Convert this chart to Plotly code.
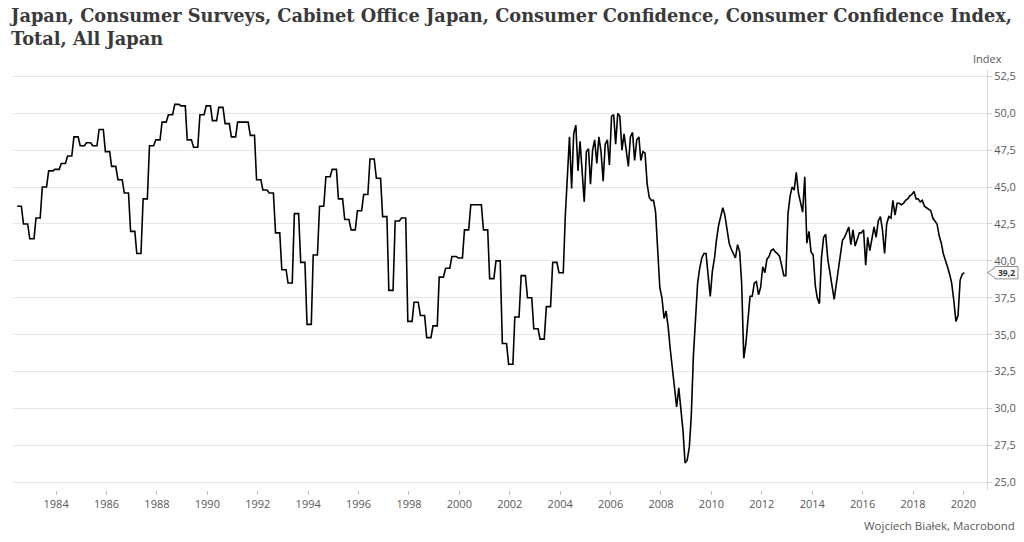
import plotly.graph_objects as go
import pandas as pd
import numpy as np

# Quarterly survey values (Jun 1982 - Dec 2003), each covering three months
quarterly_start = "1982-06-01"
quarterly_values = [
    43.7, 42.5, 41.5,
    42.9, 45.0, 46.1, 46.2,
    46.6, 47.1, 48.4, 47.8,
    48.0, 47.8, 48.9, 47.4,
    46.4, 45.5, 44.6, 42.0,
    40.5, 44.2, 47.8, 48.2,
    49.4, 49.9, 50.6, 50.5,
    48.2, 47.7, 49.9, 50.5,
    49.5, 50.4, 49.3, 48.4,
    49.4, 49.4, 48.5, 45.5,
    44.8, 44.6, 41.9, 39.4,
    38.5, 43.2, 39.9, 35.7,
    40.4, 43.7, 45.7, 46.2,
    44.2, 42.8, 42.1, 43.4,
    44.5, 46.9, 45.6, 43.0,
    38.0, 42.7, 42.9, 35.9,
    37.2, 36.3, 34.8, 35.6,
    38.9, 39.5, 40.3, 40.2,
    42.1, 43.8, 43.8, 42.1,
    38.8, 40.0, 34.4, 33.0,
    36.2, 39.0, 37.5, 35.4,
    34.7, 36.9, 39.9, 39.2,
]

# Monthly values (Mar 2004 - Jan 2020)
monthly_start = "2004-03-01"
monthly_values = [
    43.0, 46.2, 48.4, 44.9, 48.6, 49.2, 46.1, 48.1, 46.2, 44.0,
    47.4, 47.6, 45.2, 47.5, 48.2, 46.6, 48.4, 47.4, 45.4, 47.9, 48.2, 46.5,
    49.8, 49.9, 47.9, 50.0, 49.8, 47.5, 48.6, 47.5, 46.4, 48.4, 48.7, 46.8,
    48.2, 48.4, 46.8, 47.4, 47.3, 45.2, 44.3, 44.1, 44.1, 43.3, 40.9, 38.2,
    37.5, 36.1, 36.6, 35.5, 34.0, 32.7, 31.4, 30.1, 31.4, 29.9, 28.5, 26.3,
    26.5, 27.4, 29.5, 33.6, 36.5, 38.5, 39.5, 40.2, 40.5, 40.5, 39.0, 37.6,
    39.3, 40.2, 41.4, 42.4, 43.0, 43.6, 43.1, 42.2, 41.2, 40.8, 40.5, 40.2,
    41.1, 40.6, 38.5, 33.4, 34.4, 36.0, 37.6, 37.6, 38.5, 38.6, 37.7, 38.2,
    39.6, 39.2, 40.1, 40.3, 40.7, 40.8, 40.6, 40.5, 40.3, 39.7, 39.0, 39.0,
    43.2, 44.4, 45.0, 44.8, 46.0, 44.6, 43.9, 43.3, 45.7, 41.2, 42.0, 40.6,
    40.4, 38.3, 37.5, 37.1, 40.2, 41.6, 41.8, 40.1, 39.2, 38.3, 37.4, 38.4,
    39.4, 40.4, 41.4, 41.6, 42.0, 42.3, 41.1, 42.1, 41.0, 41.4, 41.9, 41.9,
    42.1, 39.7, 41.6, 40.7, 41.6, 42.3, 41.6, 42.7, 43.0, 42.1, 40.5, 42.5,
    43.0, 42.9, 44.1, 43.1, 43.9, 43.9, 43.8, 43.9, 44.1, 44.2, 44.4, 44.5,
    44.7, 44.2, 44.2, 44.0, 44.1, 43.7, 43.6, 43.5, 43.4, 42.9, 42.7, 42.5,
    41.7, 41.2, 40.5, 40.1, 39.6, 39.1, 38.5, 37.3, 35.9, 36.3, 38.7, 39.1,
    39.2,
]

y_ticks = [25.0, 27.5, 30.0, 32.5, 35.0, 37.5, 40.0, 42.5, 45.0, 47.5, 50.0, 52.5]

title_text = ("Japan, Consumer Surveys, Cabinet Office Japan, Consumer Confidence, "
              "Consumer Confidence Index,<br>Total, All Japan")
source_text = "Wojciech Białek, Macrobond"
unit_text = "Index"

# Build the series
q_dates = pd.date_range(quarterly_start, periods=len(quarterly_values) * 3, freq="MS") + pd.Timedelta(days=14)
q_vals = np.repeat(quarterly_values, 3)
m_dates = pd.date_range(monthly_start, periods=len(monthly_values), freq="MS") + pd.Timedelta(days=14)

x_all = list(q_dates) + list(m_dates)
y_all = list(q_vals) + list(monthly_values)

fig = go.Figure()
fig.add_trace(go.Scatter(
    x=x_all, y=y_all, mode="lines",
    line=dict(color="#000000", width=1.6),
    hoverinfo="skip", showlegend=False,
))

L, R, T, B = 13, 37, 70, 52
PW, PH = 1024 - L - R, 542 - T - B
Y0, Y1 = 24.48, 52.93

label_font = dict(family="Open Sans, Noto Sans, sans-serif", size=11, color="#595959")

fig.update_layout(
    width=1024, height=542,
    margin=dict(l=L, r=R, t=T, b=B, autoexpand=False),
    paper_bgcolor="white", plot_bgcolor="white",
    separators=",.",
    xaxis=dict(
        type="date",
        range=["1982-04-16", "2020-12-08"],
        tick0="1984-01-01", dtick="M24", tickformat="%Y",
        ticks="outside", ticklen=4, tickcolor="#bfbfbf",
        showgrid=False, showline=False, zeroline=False,
        tickfont=label_font, automargin=False,
    ),
    yaxis=dict(
        side="right",
        range=[Y0, Y1],
        tickvals=y_ticks, tickformat=".1f",
        ticks="outside", ticklen=4, tickcolor="#d0d0d0",
        showgrid=True, gridcolor="#e6e6e6", gridwidth=1,
        showline=True, linecolor="#d9d9d9", linewidth=1,
        zeroline=False, automargin=False,
        tickfont=label_font,
    ),
)

# Title
fig.add_annotation(text="<b>" + title_text + "</b>", xref="paper", yref="paper",
                   x=(7 - L) / PW, y=1 + (T - 3) / PH, xanchor="left", yanchor="top",
                   align="left", showarrow=False,
                   font=dict(family="DejaVu Serif, serif", size=17.8, color="#3a3a3a"))

# Axis unit label and source
fig.add_annotation(text=unit_text, xref="paper", yref="paper", x=1.0, y=1 + 12 / PH,
                   xanchor="center", yanchor="middle", showarrow=False,
                   font=dict(family="Open Sans, sans-serif", size=11, color="#595959"))
fig.add_annotation(text=source_text, xref="paper", yref="paper", x=(1017 - L) / PW, y=-35 / PH,
                   xanchor="right", yanchor="middle", showarrow=False,
                   font=dict(family="Open Sans, sans-serif", size=11.5, color="#595959"))

# Last value callout
last_val = monthly_values[-1]
px_unit = (Y1 - Y0) / PH
h = 6.2 * px_unit
n = 5.0 * px_unit
xt = 1.0005
xl = (995 - L) / PW
xr = (1018 - L) / PW
path = (f"M {xt},{last_val} L {xl},{last_val + n} L {xl},{last_val + h} L {xr},{last_val + h} "
        f"L {xr},{last_val - h} L {xl},{last_val - h} L {xl},{last_val - n} Z")
fig.add_shape(type="path", path=path, xref="paper", yref="y",
              line=dict(color="#8c8c8c", width=1), fillcolor="white")
fig.add_annotation(text="<b>" + f"{last_val:.1f}".replace(".", ",") + "</b>",
                   xref="paper", yref="y", x=(xl + xr) / 2, y=last_val,
                   xanchor="center", yanchor="middle", showarrow=False,
                   font=dict(family="Open Sans, sans-serif", size=8.5, color="#333333"))

fig.write_html("out.html", config={"displayModeBar": False},
               post_script="document.body.style.margin='0px';")
